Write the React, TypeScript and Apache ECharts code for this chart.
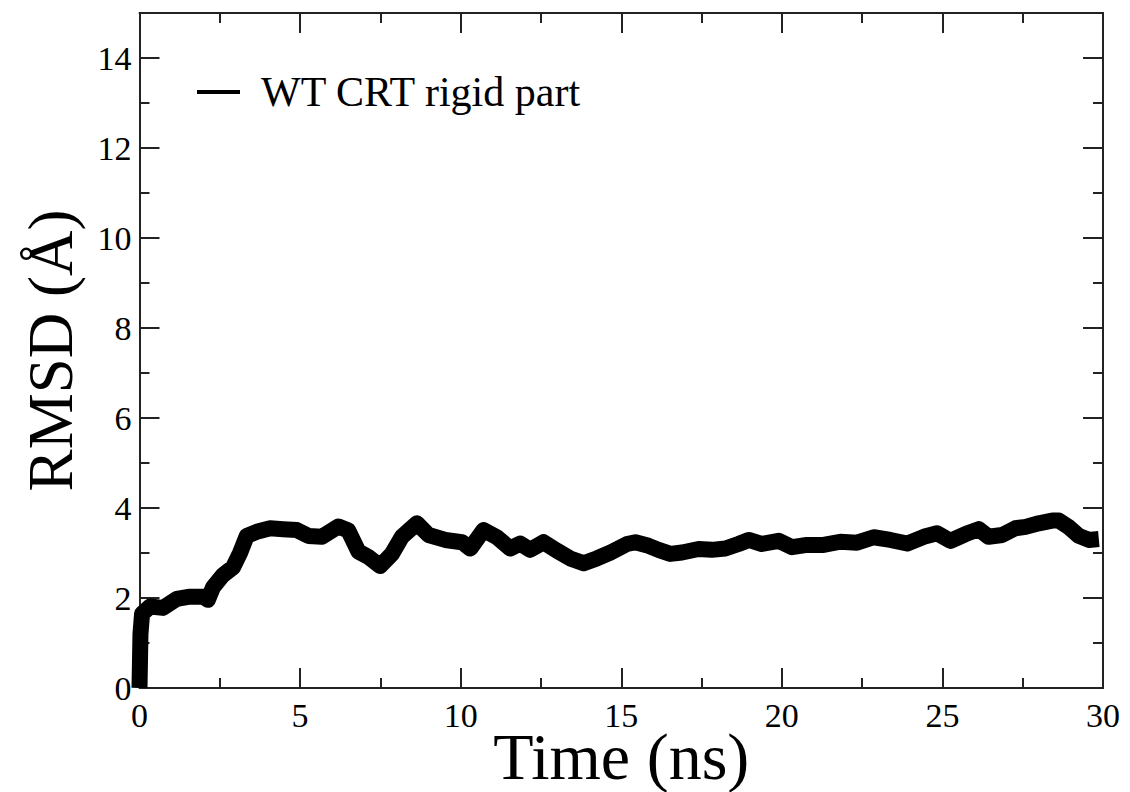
import React, { useEffect, useRef } from "react";
import * as echarts from "echarts";

const timeNs = [0, 0.03, 0.08, 0.33, 0.73, 1.16, 1.57, 1.98, 2.13, 2.29, 2.6, 2.91, 3.13, 3.34, 3.65, 4.07, 4.47, 4.9, 5.26, 5.68, 6.19, 6.5, 6.82, 7.13, 7.49, 7.86, 8.17, 8.64, 9.0, 9.52, 10.04, 10.3, 10.71, 11.13, 11.54, 11.85, 12.16, 12.58, 13.0, 13.41, 13.83, 14.24, 14.66, 15.18, 15.44, 15.85, 16.16, 16.53, 16.89, 17.41, 17.82, 18.24, 18.65, 18.97, 19.38, 19.9, 20.32, 20.78, 21.3, 21.82, 22.34, 22.86, 23.38, 23.9, 24.42, 24.83, 25.25, 25.72, 26.13, 26.44, 26.86, 27.27, 27.59, 28.0, 28.42, 28.62, 28.93, 29.25, 29.56, 29.87];
const rmsd = [0, 1.2, 1.65, 1.81, 1.78, 1.98, 2.03, 2.03, 1.96, 2.24, 2.51, 2.68, 3.0, 3.38, 3.47, 3.55, 3.53, 3.51, 3.38, 3.36, 3.59, 3.5, 3.03, 2.91, 2.71, 2.98, 3.36, 3.66, 3.4, 3.29, 3.24, 3.1, 3.51, 3.35, 3.1, 3.21, 3.07, 3.24, 3.05, 2.88, 2.77, 2.88, 3.01, 3.2, 3.24, 3.16, 3.07, 2.98, 3.01, 3.09, 3.07, 3.1, 3.2, 3.29, 3.2, 3.27, 3.13, 3.18, 3.18, 3.25, 3.23, 3.35, 3.29, 3.21, 3.36, 3.44, 3.27, 3.42, 3.53, 3.36, 3.4, 3.55, 3.58, 3.66, 3.72, 3.72, 3.58, 3.38, 3.29, 3.31];

const seriesName = "WT CRT rigid part";
const xTitle = "Time (ns)";
const yTitle = "RMSD (Å)";
const xRange = { min: 0, max: 30, major: 5 };
const yRange = { min: 0, max: 15, major: 2, minor: 1 };

const FONT = "Liberation Serif";
const AX = "#222";

export default function App() {
  const ref = useRef<HTMLDivElement>(null);
  useEffect(() => {
    if (!ref.current) return;
    const chart = echarts.init(ref.current, undefined, { renderer: "svg" });
    const axisLine = { show: true, onZero: false, lineStyle: { color: AX, width: 2 } };
    const majorTick = { show: true, inside: true, length: 20, lineStyle: { color: AX, width: 2 } };
    const minorTickX = { show: true, splitNumber: 2, length: 10, lineStyle: { color: AX, width: 2 } };
    const yMinorAxis = (pos: "left" | "right") => ({
      type: "value",
      position: pos,
      min: yRange.min,
      max: yRange.max,
      interval: yRange.minor,
      axisLine,
      axisTick: { show: true, inside: true, length: 10, lineStyle: { color: AX, width: 2 } },
      axisLabel: { show: false },
      splitLine: { show: false },
    });
    const option: any = {
      animation: false,
      backgroundColor: "#fff",
      textStyle: { fontFamily: FONT },
      grid: { left: 139.5, right: 27, top: 13, bottom: 104, containLabel: false, outerBoundsMode: "none" },
      legend: {
        left: 192,
        top: 66,
        itemWidth: 43,
        itemHeight: 4,
        itemGap: 0,
        data: [{ name: seriesName, icon: "rect", itemStyle: { color: "#000" } }],
        textStyle: { fontFamily: FONT, fontSize: 42, color: "#000", padding: [0, 0, 0, 16] },
      },
      xAxis: [
        {
          type: "value",
          position: "bottom",
          min: xRange.min,
          max: xRange.max,
          interval: xRange.major,
          axisLine,
          axisTick: majorTick,
          minorTick: minorTickX,
          axisLabel: { fontFamily: FONT, fontSize: 34, color: "#000", margin: 10 },
          splitLine: { show: false },
          minorSplitLine: { show: false },
          name: xTitle,
          nameLocation: "middle",
          nameGap: 68,
          nameMoveOverlap: false,
          nameTextStyle: { fontFamily: FONT, fontSize: 66, color: "#000", verticalAlign: "middle", lineHeight: 40 },
        },
        {
          type: "value",
          position: "top",
          min: xRange.min,
          max: xRange.max,
          interval: xRange.major,
          axisLine,
          axisTick: majorTick,
          minorTick: minorTickX,
          axisLabel: { show: false },
          splitLine: { show: false },
        },
      ],
      yAxis: [
        {
          type: "value",
          position: "left",
          min: yRange.min,
          max: yRange.max,
          interval: yRange.major,
          axisLine,
          axisTick: majorTick,
          axisLabel: { fontFamily: FONT, fontSize: 34, color: "#000", margin: 8, showMaxLabel: false },
          splitLine: { show: false },
          name: yTitle,
          nameLocation: "middle",
          nameGap: 89,
          nameMoveOverlap: false,
          nameRotate: 90,
          nameTextStyle: { fontFamily: FONT, fontSize: 63, color: "#000", verticalAlign: "middle", lineHeight: 63 },
        },
        {
          type: "value",
          position: "right",
          min: yRange.min,
          max: yRange.max,
          interval: yRange.major,
          axisLine,
          axisTick: majorTick,
          axisLabel: { show: false },
          splitLine: { show: false },
        },
        yMinorAxis("left"),
        yMinorAxis("right"),
      ],
      series: [
        {
          name: seriesName,
          type: "line",
          xAxisIndex: 0,
          yAxisIndex: 0,
          data: timeNs.map((t, i) => [t, rmsd[i]]),
          showSymbol: false,
          symbol: "none",
          lineStyle: { color: "#000", width: 16, join: "round", cap: "butt" },
          itemStyle: { color: "#000" },
        },
      ],
    };
    chart.setOption(option);
    return () => chart.dispose();
  }, []);
  return <div ref={ref} style={{ width: 1130, height: 792, marginLeft: -8, marginTop: -8 }} />;
}
